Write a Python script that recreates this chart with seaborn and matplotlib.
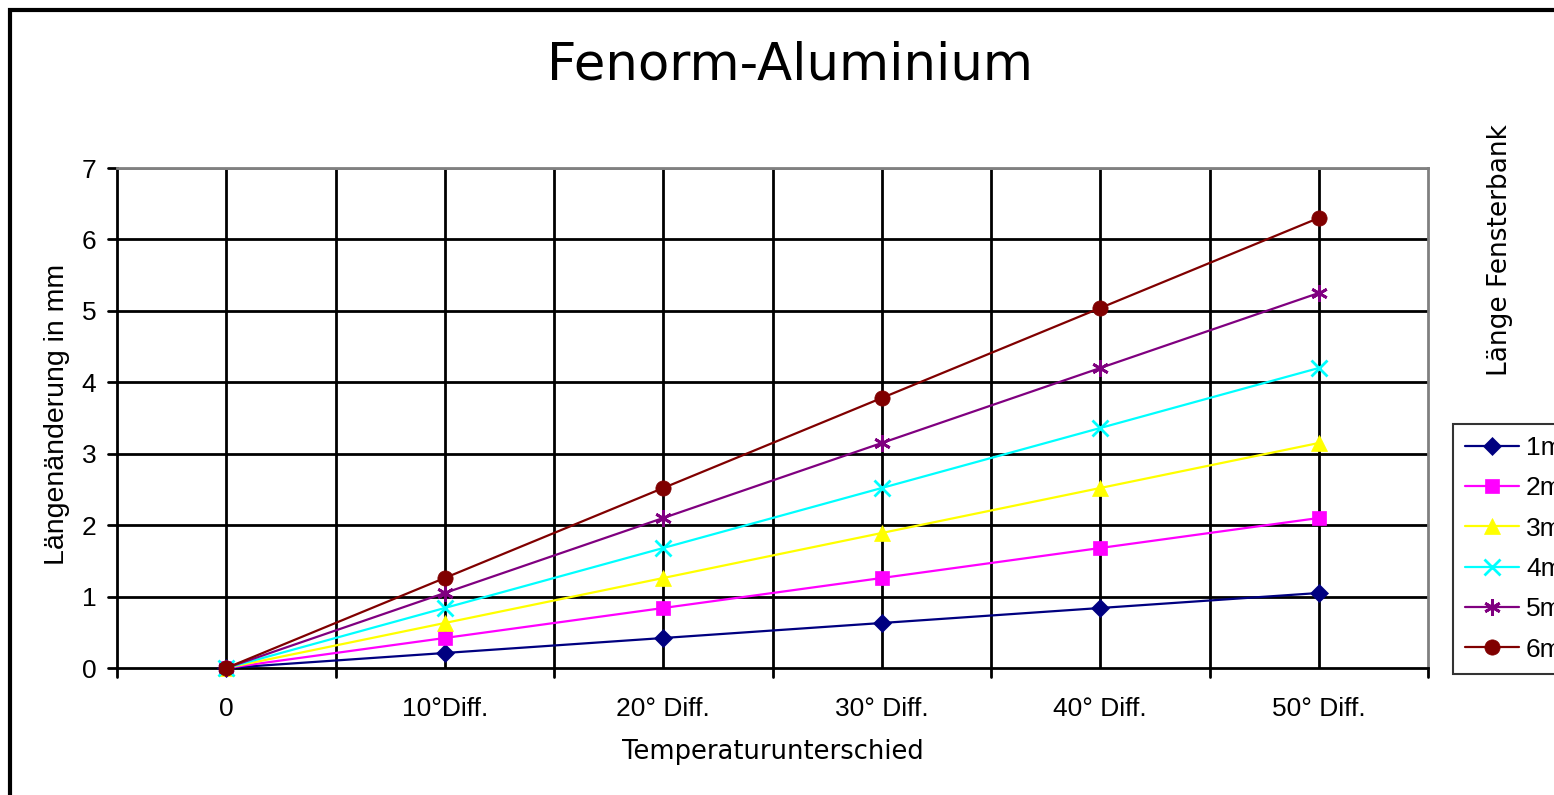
import matplotlib
matplotlib.use("Agg")
import matplotlib.pyplot as plt
import seaborn as sns
import pandas as pd
from matplotlib.patches import Rectangle

categories = ["0", "10°Diff.", "20° Diff.", "30° Diff.", "40° Diff.", "50° Diff."]
series_names = ["1m", "2m", "3m", "4m", "5m", "6m"]
v1m = [0, 0.21, 0.42, 0.63, 0.84, 1.05]
v2m = [0, 0.42, 0.84, 1.26, 1.68, 2.10]
v3m = [0, 0.63, 1.26, 1.89, 2.52, 3.15]
v4m = [0, 0.84, 1.68, 2.52, 3.36, 4.20]
v5m = [0, 1.05, 2.10, 3.15, 4.20, 5.25]
v6m = [0, 1.26, 2.52, 3.78, 5.04, 6.30]
values = [v1m, v2m, v3m, v4m, v5m, v6m]
colors = ["#000080", "#FF00FF", "#FFFF00", "#00FFFF", "#800080", "#800000"]
markers = ["D", "s", "^", "x", (6, 2, 0), "o"]
msizes = [9, 10, 11, 11, 12, 11]

rows = []
for name, vals in zip(series_names, values):
    for i, v in enumerate(vals):
        rows.append({"pos": i, "val": v, "series": name})
df = pd.DataFrame(rows)

sns.set_theme(style="white")
plt.rcParams['font.family'] = ['Liberation Sans', 'DejaVu Sans']
plt.rcParams['text.color'] = 'black'

fig = plt.figure(figsize=(15.54, 7.95), dpi=100)
ax = fig.add_axes([117/1554, 1-668/795, (1428-117)/1554, (668-168)/795])

for name, c, m, ms in zip(series_names, colors, markers, msizes):
    sub = df[df["series"] == name]
    sns.lineplot(data=sub, x="pos", y="val", ax=ax, color=c, marker=m,
                 markersize=ms, markeredgecolor=c,
                 markeredgewidth=2.0 if m in ("x", (6, 2, 0)) else 0.5,
                 linewidth=1.6, label=name, zorder=3, clip_on=False)

ax.set_xlabel("")
ax.set_ylabel("")
ax.set_xlim(-0.5, 5.5)
ax.set_ylim(0, 7)
ax.set_yticks(range(0, 8))
ax.set_xticks(range(len(categories)))
ax.set_xticklabels(categories)
ax.tick_params(axis='both', labelsize=19, colors='black', length=0)
ax.tick_params(axis='y', pad=15)
ax.tick_params(axis='x', pad=21)

# gridlines
for y in range(1, 7):
    ax.axhline(y, color='black', lw=2, zorder=1)
for x in [i * 0.5 - 0.5 for i in range(1, 12)]:
    ax.axvline(x, color='black', lw=2, zorder=1)
ax.axhline(7, color='#808080', lw=2, zorder=1)
# tick marks
for x in [i - 0.5 for i in range(7)]:
    ax.plot([x, x], [0, -0.12], color='black', lw=2, clip_on=False, zorder=1)
for y in range(8):
    ax.plot([-0.5, -0.54], [y, y], color='black', lw=2, clip_on=False, zorder=1)

for s in ['top', 'right']:
    ax.spines[s].set_color('#808080')
    ax.spines[s].set_linewidth(2)
for s in ['left', 'bottom']:
    ax.spines[s].set_color('black')
    ax.spines[s].set_linewidth(2)

fig.text(773/1554, 1-752/795, "Temperaturunterschied", fontsize=18.5, family=['DejaVu Sans'],
         ha='center', va='center')
fig.text(57/1554, 1-414/795, "Längenänderung in mm", fontsize=20.5, rotation=90,
         ha='center', va='center')

fig.text(790/1554, 1-65/795, "Fenorm-Aluminium", fontsize=37, family=['DejaVu Sans'],
         ha='center', va='center')

leg = ax.legend(loc='upper left', bbox_to_anchor=(1453/1554, 1-424/795),
                bbox_transform=fig.transFigure, frameon=True, fontsize=19,
                fancybox=False, borderpad=0.45, labelspacing=0.62, handlelength=2.05,
                handletextpad=0.27, borderaxespad=0)
leg.get_frame().set_edgecolor('black')
leg.get_frame().set_linewidth(1.5)

fig.text(1500/1554, 1-250/795, "Länge Fensterbank", fontsize=19, family=['DejaVu Sans'],
         rotation=90, ha='center', va='center')

fig.patches.append(Rectangle((10/1554, -0.1), 2, 1.1 - 10/795, transform=fig.transFigure,
                             fill=False, edgecolor='black', lw=3, figure=fig))

fig.savefig("out.png", dpi=100)
